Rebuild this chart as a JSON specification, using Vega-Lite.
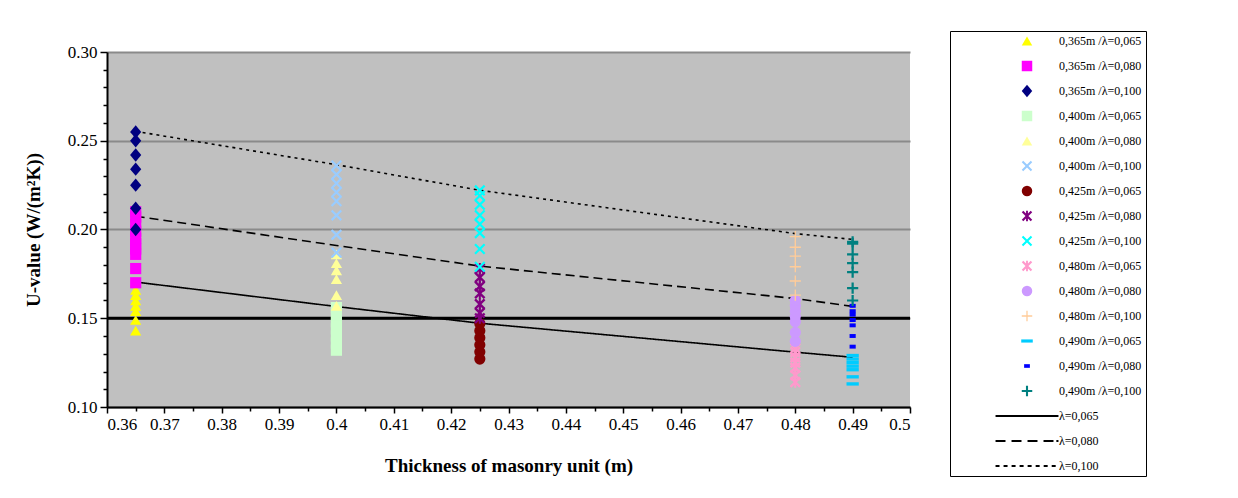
{
  "$schema": "https://vega.github.io/schema/vega-lite/v6.json",
  "autosize": {"type": "none"},
  "width": 803,
  "height": 355,
  "padding": {"left": 107, "top": 52, "right": 328, "bottom": 91},
  "background": "white",
  "config": {
    "view": {"fill": "#c0c0c0", "stroke": null},
    "font": "Liberation Serif"
  },
  "datasets": {
    "pts": [
      {"s": "0,365m /λ=0,065", "t": 0.365, "u": 0.143},
      {"s": "0,365m /λ=0,065", "t": 0.365, "u": 0.149},
      {"s": "0,365m /λ=0,065", "t": 0.365, "u": 0.154},
      {"s": "0,365m /λ=0,065", "t": 0.365, "u": 0.157},
      {"s": "0,365m /λ=0,065", "t": 0.365, "u": 0.160},
      {"s": "0,365m /λ=0,065", "t": 0.365, "u": 0.163},
      {"s": "0,365m /λ=0,065", "t": 0.365, "u": 0.166},
      {"s": "0,365m /λ=0,080", "t": 0.365, "u": 0.170},
      {"s": "0,365m /λ=0,080", "t": 0.365, "u": 0.178},
      {"s": "0,365m /λ=0,080", "t": 0.365, "u": 0.186},
      {"s": "0,365m /λ=0,080", "t": 0.365, "u": 0.189},
      {"s": "0,365m /λ=0,080", "t": 0.365, "u": 0.192},
      {"s": "0,365m /λ=0,080", "t": 0.365, "u": 0.195},
      {"s": "0,365m /λ=0,080", "t": 0.365, "u": 0.199},
      {"s": "0,365m /λ=0,080", "t": 0.365, "u": 0.203},
      {"s": "0,365m /λ=0,080", "t": 0.365, "u": 0.207},
      {"s": "0,365m /λ=0,080", "t": 0.365, "u": 0.210},
      {"s": "0,365m /λ=0,100", "t": 0.365, "u": 0.200},
      {"s": "0,365m /λ=0,100", "t": 0.365, "u": 0.212},
      {"s": "0,365m /λ=0,100", "t": 0.365, "u": 0.225},
      {"s": "0,365m /λ=0,100", "t": 0.365, "u": 0.234},
      {"s": "0,365m /λ=0,100", "t": 0.365, "u": 0.242},
      {"s": "0,365m /λ=0,100", "t": 0.365, "u": 0.250},
      {"s": "0,365m /λ=0,100", "t": 0.365, "u": 0.255},
      {"s": "0,400m /λ=0,065", "t": 0.4, "u": 0.132},
      {"s": "0,400m /λ=0,065", "t": 0.4, "u": 0.136},
      {"s": "0,400m /λ=0,065", "t": 0.4, "u": 0.140},
      {"s": "0,400m /λ=0,065", "t": 0.4, "u": 0.144},
      {"s": "0,400m /λ=0,065", "t": 0.4, "u": 0.148},
      {"s": "0,400m /λ=0,065", "t": 0.4, "u": 0.152},
      {"s": "0,400m /λ=0,065", "t": 0.4, "u": 0.156},
      {"s": "0,400m /λ=0,080", "t": 0.4, "u": 0.157},
      {"s": "0,400m /λ=0,080", "t": 0.4, "u": 0.163},
      {"s": "0,400m /λ=0,080", "t": 0.4, "u": 0.172},
      {"s": "0,400m /λ=0,080", "t": 0.4, "u": 0.177},
      {"s": "0,400m /λ=0,080", "t": 0.4, "u": 0.181},
      {"s": "0,400m /λ=0,080", "t": 0.4, "u": 0.186},
      {"s": "0,400m /λ=0,100", "t": 0.4, "u": 0.187},
      {"s": "0,400m /λ=0,100", "t": 0.4, "u": 0.197},
      {"s": "0,400m /λ=0,100", "t": 0.4, "u": 0.208},
      {"s": "0,400m /λ=0,100", "t": 0.4, "u": 0.216},
      {"s": "0,400m /λ=0,100", "t": 0.4, "u": 0.221},
      {"s": "0,400m /λ=0,100", "t": 0.4, "u": 0.226},
      {"s": "0,400m /λ=0,100", "t": 0.4, "u": 0.231},
      {"s": "0,400m /λ=0,100", "t": 0.4, "u": 0.236},
      {"s": "0,425m /λ=0,065", "t": 0.425, "u": 0.127},
      {"s": "0,425m /λ=0,065", "t": 0.425, "u": 0.131},
      {"s": "0,425m /λ=0,065", "t": 0.425, "u": 0.135},
      {"s": "0,425m /λ=0,065", "t": 0.425, "u": 0.139},
      {"s": "0,425m /λ=0,065", "t": 0.425, "u": 0.143},
      {"s": "0,425m /λ=0,065", "t": 0.425, "u": 0.147},
      {"s": "0,425m /λ=0,080", "t": 0.425, "u": 0.150},
      {"s": "0,425m /λ=0,080", "t": 0.425, "u": 0.153},
      {"s": "0,425m /λ=0,080", "t": 0.425, "u": 0.158},
      {"s": "0,425m /λ=0,080", "t": 0.425, "u": 0.164},
      {"s": "0,425m /λ=0,080", "t": 0.425, "u": 0.168},
      {"s": "0,425m /λ=0,080", "t": 0.425, "u": 0.173},
      {"s": "0,425m /λ=0,080", "t": 0.425, "u": 0.178},
      {"s": "0,425m /λ=0,100", "t": 0.425, "u": 0.179},
      {"s": "0,425m /λ=0,100", "t": 0.425, "u": 0.189},
      {"s": "0,425m /λ=0,100", "t": 0.425, "u": 0.198},
      {"s": "0,425m /λ=0,100", "t": 0.425, "u": 0.203},
      {"s": "0,425m /λ=0,100", "t": 0.425, "u": 0.208},
      {"s": "0,425m /λ=0,100", "t": 0.425, "u": 0.214},
      {"s": "0,425m /λ=0,100", "t": 0.425, "u": 0.219},
      {"s": "0,425m /λ=0,100", "t": 0.425, "u": 0.222},
      {"s": "0,480m /λ=0,065", "t": 0.48, "u": 0.114},
      {"s": "0,480m /λ=0,065", "t": 0.48, "u": 0.118},
      {"s": "0,480m /λ=0,065", "t": 0.48, "u": 0.122},
      {"s": "0,480m /λ=0,065", "t": 0.48, "u": 0.125},
      {"s": "0,480m /λ=0,065", "t": 0.48, "u": 0.128},
      {"s": "0,480m /λ=0,065", "t": 0.48, "u": 0.131},
      {"s": "0,480m /λ=0,065", "t": 0.48, "u": 0.133},
      {"s": "0,480m /λ=0,080", "t": 0.48, "u": 0.137},
      {"s": "0,480m /λ=0,080", "t": 0.48, "u": 0.142},
      {"s": "0,480m /λ=0,080", "t": 0.48, "u": 0.148},
      {"s": "0,480m /λ=0,080", "t": 0.48, "u": 0.151},
      {"s": "0,480m /λ=0,080", "t": 0.48, "u": 0.154},
      {"s": "0,480m /λ=0,080", "t": 0.48, "u": 0.157},
      {"s": "0,480m /λ=0,080", "t": 0.48, "u": 0.160},
      {"s": "0,480m /λ=0,100", "t": 0.48, "u": 0.163},
      {"s": "0,480m /λ=0,100", "t": 0.48, "u": 0.171},
      {"s": "0,480m /λ=0,100", "t": 0.48, "u": 0.179},
      {"s": "0,480m /λ=0,100", "t": 0.48, "u": 0.185},
      {"s": "0,480m /λ=0,100", "t": 0.48, "u": 0.190},
      {"s": "0,480m /λ=0,100", "t": 0.48, "u": 0.196},
      {"s": "0,490m /λ=0,065", "t": 0.49, "u": 0.113},
      {"s": "0,490m /λ=0,065", "t": 0.49, "u": 0.117},
      {"s": "0,490m /λ=0,065", "t": 0.49, "u": 0.121},
      {"s": "0,490m /λ=0,065", "t": 0.49, "u": 0.123},
      {"s": "0,490m /λ=0,065", "t": 0.49, "u": 0.125},
      {"s": "0,490m /λ=0,065", "t": 0.49, "u": 0.127},
      {"s": "0,490m /λ=0,065", "t": 0.49, "u": 0.129},
      {"s": "0,490m /λ=0,080", "t": 0.49, "u": 0.134},
      {"s": "0,490m /λ=0,080", "t": 0.49, "u": 0.140},
      {"s": "0,490m /λ=0,080", "t": 0.49, "u": 0.146},
      {"s": "0,490m /λ=0,080", "t": 0.49, "u": 0.149},
      {"s": "0,490m /λ=0,080", "t": 0.49, "u": 0.152},
      {"s": "0,490m /λ=0,080", "t": 0.49, "u": 0.154},
      {"s": "0,490m /λ=0,080", "t": 0.49, "u": 0.157},
      {"s": "0,490m /λ=0,100", "t": 0.49, "u": 0.160},
      {"s": "0,490m /λ=0,100", "t": 0.49, "u": 0.167},
      {"s": "0,490m /λ=0,100", "t": 0.49, "u": 0.176},
      {"s": "0,490m /λ=0,100", "t": 0.49, "u": 0.181},
      {"s": "0,490m /λ=0,100", "t": 0.49, "u": 0.186},
      {"s": "0,490m /λ=0,100", "t": 0.49, "u": 0.192},
      {"s": "0,490m /λ=0,100", "t": 0.49, "u": 0.193}
    ],
    "lines": [
      {"s": "λ=0,065", "t": 0.365, "u": 0.1704},
      {"s": "λ=0,065", "t": 0.4, "u": 0.1566},
      {"s": "λ=0,065", "t": 0.425, "u": 0.1472},
      {"s": "λ=0,065", "t": 0.48, "u": 0.1309},
      {"s": "λ=0,065", "t": 0.49, "u": 0.1280},
      {"s": "λ=0,080", "t": 0.365, "u": 0.2075},
      {"s": "λ=0,080", "t": 0.4, "u": 0.1910},
      {"s": "λ=0,080", "t": 0.425, "u": 0.1794},
      {"s": "λ=0,080", "t": 0.48, "u": 0.1611},
      {"s": "λ=0,080", "t": 0.49, "u": 0.1567},
      {"s": "λ=0,100", "t": 0.365, "u": 0.2553},
      {"s": "λ=0,100", "t": 0.4, "u": 0.2365},
      {"s": "λ=0,100", "t": 0.425, "u": 0.2221},
      {"s": "λ=0,100", "t": 0.48, "u": 0.1977},
      {"s": "λ=0,100", "t": 0.49, "u": 0.1944}
    ],
    "limit": [
      {"t": 0.36, "u": 0.15},
      {"t": 0.5, "u": 0.15}
    ]
  },
  "encoding": {
    "x": {
      "field": "t", "type": "quantitative",
      "scale": {"domain": [0.36, 0.5], "nice": false, "zero": false},
      "axis": {
        "title": "Thickness of masonry unit (m)",
        "values": [0.36,0.365,0.37,0.375,0.38,0.385,0.39,0.395,0.4,0.405,0.41,0.415,0.42,0.425,0.43,0.435,0.44,0.445,0.45,0.455,0.46,0.465,0.47,0.475,0.48,0.485,0.49,0.495,0.5],
        "labelExpr": "round(datum.value*1000) % 10 == 0 ? format(datum.value, '~g') : ''",
        "grid": false,
        "domainColor": "black", "domainWidth": 2,
        "tickColor": "black", "tickWidth": 1.5,
        "tickSize": {"condition": {"test": "round(datum.value*1000) % 10 == 0", "value": 6}, "value": 4},
        "labelFont": "Liberation Serif", "labelFontSize": 17, "labelColor": "black", "labelPadding": 3,
        "titleFont": "Liberation Serif", "titleFontSize": 19, "titleFontWeight": "bold", "titleColor": "black", "titlePadding": 24
      }
    },
    "y": {
      "field": "u", "type": "quantitative",
      "scale": {"domain": [0.1, 0.3], "nice": false, "zero": false},
      "axis": {
        "title": "U-value (W/(m²K))",
        "values": [0.1,0.11,0.12,0.13,0.14,0.15,0.16,0.17,0.18,0.19,0.2,0.21,0.22,0.23,0.24,0.25,0.26,0.27,0.28,0.29,0.3],
        "labelExpr": "round(datum.value*100) % 5 == 0 ? format(datum.value, '.2f') : ''",
        "grid": true,
        "gridColor": {"condition": {"test": "round(datum.value*100) % 5 == 0", "value": "#8a8a8a"}, "value": "transparent"},
        "gridWidth": 2,
        "domainColor": "black", "domainWidth": 2,
        "tickColor": "black", "tickWidth": 1.5,
        "tickSize": {"condition": {"test": "round(datum.value*100) % 5 == 0", "value": 7}, "value": 4},
        "labelFont": "Liberation Serif", "labelFontSize": 17, "labelColor": "black", "labelPadding": 3,
        "titleFont": "Liberation Serif", "titleFontSize": 19, "titleFontWeight": "bold", "titleColor": "black", "titlePadding": 24
      }
    }
  },
  "layer": [
    {
      "data": {"name": "limit"},
      "mark": {"type": "line", "color": "black", "strokeWidth": 3}
    },
    {
      "data": {"name": "lines"},
      "mark": {"type": "line", "strokeWidth": 1.6, "color": "black"},
      "encoding": {
        "detail": {"field": "s", "type": "nominal"},
        "strokeDash": {
          "field": "s", "type": "nominal", "legend": null,
          "scale": {"domain": ["λ=0,065", "λ=0,080", "λ=0,100"], "range": [[1, 0], [9, 5], [3, 4]]}
        }
      }
    },
    {
      "data": {"name": "pts"},
      "mark": {"type": "point", "filled": true, "size": 125, "opacity": 1, "strokeWidth": 0},
      "encoding": {
        "color": {
          "field": "s", "type": "nominal",
          "scale": {
            "domain": ["0,365m /λ=0,065","0,365m /λ=0,080","0,365m /λ=0,100","0,400m /λ=0,065","0,400m /λ=0,080","0,400m /λ=0,100","0,425m /λ=0,065","0,425m /λ=0,080","0,425m /λ=0,100","0,480m /λ=0,065","0,480m /λ=0,080","0,480m /λ=0,100","0,490m /λ=0,065","0,490m /λ=0,080","0,490m /λ=0,100","λ=0,065","λ=0,080","λ=0,100"],
            "range": ["#FFFF00","#FF00FF","#000080","#CCFFCC","#FFFF99","#99CCFF","#800000","#800080","#00FFFF","#FF99CC","#CC99FF","#FFCC99","#00CCFF","#0000FF","#008080","#000000","#000000","#000000"]
          },
          "legend": {
            "title": null,
            "orient": "none",
            "legendX": 843,
            "legendY": -21,
            "strokeColor": "black",
            "fillColor": "white",
            "padding": 4,
            "symbolOffset": 67,
            "labelOffset": 26,
            "rowPadding": 11,
            "gridAlign": "all",
            "labelFont": "Liberation Serif",
            "labelFontSize": 12,
            "labelColor": "black",
            "labelLimit": 200,
            "symbolSize": 110,
            "symbolStrokeWidth": 0,
            "symbolOpacity": 1
          }
        },
        "shape": {
          "field": "s", "type": "nominal",
          "scale": {
            "domain": ["0,365m /λ=0,065","0,365m /λ=0,080","0,365m /λ=0,100","0,400m /λ=0,065","0,400m /λ=0,080","0,400m /λ=0,100","0,425m /λ=0,065","0,425m /λ=0,080","0,425m /λ=0,100","0,480m /λ=0,065","0,480m /λ=0,080","0,480m /λ=0,100","0,490m /λ=0,065","0,490m /λ=0,080","0,490m /λ=0,100","λ=0,065","λ=0,080","λ=0,100"],
            "range": [
              "triangle-up",
              "square",
              "M0,-1.2L1,0L0,1.2L-1,0Z",
              "square",
              "triangle-up",
              "M-1,-0.72L-0.72,-1L1,0.72L0.72,1Z M-1,0.72L0.72,-1L1,-0.72L-0.72,1Z",
              "circle",
              "M-1,-0.7L-0.7,-1L1,0.7L0.7,1Z M-1,0.7L0.7,-1L1,-0.7L-0.7,1Z M-0.18,-1L0.18,-1L0.18,1L-0.18,1Z",
              "M-1,-0.72L-0.72,-1L1,0.72L0.72,1Z M-1,0.72L0.72,-1L1,-0.72L-0.72,1Z",
              "M-1,-0.7L-0.7,-1L1,0.7L0.7,1Z M-1,0.7L0.7,-1L1,-0.7L-0.7,1Z M-0.18,-1L0.18,-1L0.18,1L-0.18,1Z",
              "circle",
              "M-0.12,-1L0.12,-1L0.12,-0.12L1,-0.12L1,0.12L0.12,0.12L0.12,1L-0.12,1L-0.12,0.12L-1,0.12L-1,-0.12L-0.12,-0.12Z",
              "M-1.1,-0.3L1.1,-0.3L1.1,0.3L-1.1,0.3Z",
              "M-0.55,-0.35L0.55,-0.35L0.55,0.35L-0.55,0.35Z",
              "M-0.2,-1L0.2,-1L0.2,-0.2L1,-0.2L1,0.2L0.2,0.2L0.2,1L-0.2,1L-0.2,0.2L-1,0.2L-1,-0.2L-0.2,-0.2Z",
              "M-6,-0.17L6,-0.17L6,0.17L-6,0.17Z",
              "M-6,-0.19L-4.1,-0.19L-4.1,0.19L-6,0.19Z M-2.95,-0.19L-1.05,-0.19L-1.05,0.19L-2.95,0.19Z M0.1,-0.19L2,-0.19L2,0.19L0.1,0.19Z M3.15,-0.19L5.05,-0.19L5.05,0.19L3.15,0.19Z M5.6,-0.19L6,-0.19L6,0.19L5.6,0.19Z",
              "M-6,-0.19L-5.24,-0.19L-5.24,0.19L-6,0.19Z M-4.47,-0.19L-3.71,-0.19L-3.71,0.19L-4.47,0.19Z M-2.94,-0.19L-2.18,-0.19L-2.18,0.19L-2.94,0.19Z M-1.41,-0.19L-0.65,-0.19L-0.65,0.19L-1.41,0.19Z M0.12,-0.19L0.88,-0.19L0.88,0.19L0.12,0.19Z M1.65,-0.19L2.41,-0.19L2.41,0.19L1.65,0.19Z M3.18,-0.19L3.94,-0.19L3.94,0.19L3.18,0.19Z M4.71,-0.19L5.47,-0.19L5.47,0.19L4.71,0.19Z"
            ]
          }
        }
      }
    }
  ]
}
